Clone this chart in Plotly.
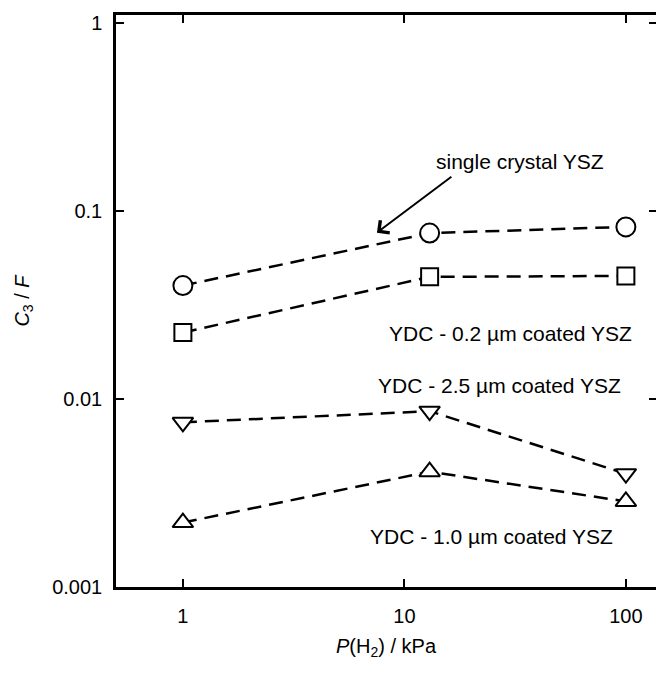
import plotly.graph_objects as go

# Data
p_h2 = [1, 13, 100]  # kPa
single_crystal = [0.040, 0.076, 0.082]
ydc_02 = [0.0225, 0.0445, 0.045]
ydc_25 = [0.0075, 0.0086, 0.0040]
ydc_10 = [0.0022, 0.0041, 0.00285]

x_ticks = [1, 10, 100]
x_ticklabels = ["1", "10", "100"]
y_ticks = [0.001, 0.01, 0.1, 1]
y_ticklabels = ["0.001", "0.01", "0.1", "1"]

FONT = "Liberation Sans, Arial, sans-serif"
dash = "14px,8px"

fig = go.Figure()

series = [
    (single_crystal, "circle", 19),
    (ydc_02, "square", 17),
    (ydc_25, "triangle-down", 18),
    (ydc_10, "triangle-up", 18),
]
for vals, sym, sz in series:
    fig.add_trace(go.Scatter(
        x=p_h2, y=vals, mode="lines+markers",
        line=dict(color="black", width=2.5, dash=dash),
        marker=dict(symbol=sym, size=sz, color="white",
                    line=dict(color="black", width=2)),
        showlegend=False, hoverinfo="skip",
    ))

# helper trace for the right-hand tick axis
fig.add_trace(go.Scatter(x=p_h2, y=single_crystal, yaxis="y2", mode="lines",
                         line=dict(width=0), opacity=0, showlegend=False,
                         hoverinfo="skip"))

ann_font = dict(family=FONT, size=21, color="black")
fig.add_annotation(x=1.133, y=-0.739, xref="x", yref="y", text="single crystal YSZ",
                   showarrow=False, xanchor="left", yanchor="middle", font=ann_font)
fig.add_annotation(x=0.876, y=-1.117, ax=1.219, ay=-0.814, xref="x", yref="y",
                   axref="x", ayref="y", text="", showarrow=True,
                   arrowhead=4, arrowsize=1.5, arrowwidth=2, arrowcolor="black")
fig.add_annotation(x=2.035, y=-1.654, xref="x", yref="y", text="YDC - 0.2 µm coated YSZ",
                   showarrow=False, xanchor="right", yanchor="middle", font=ann_font)
fig.add_annotation(x=1.986, y=-1.931, xref="x", yref="y", text="YDC - 2.5 µm coated YSZ",
                   showarrow=False, xanchor="right", yanchor="middle", font=ann_font)
fig.add_annotation(x=1.950, y=-2.729, xref="x", yref="y", text="YDC - 1.0 µm coated YSZ",
                   showarrow=False, xanchor="right", yanchor="middle", font=ann_font)

tick_font = dict(family=FONT, size=20, color="black")
fig.update_layout(
    width=656, height=673,
    margin=dict(l=116, r=0, t=15, b=86),
    paper_bgcolor="white", plot_bgcolor="white",
    font=dict(family=FONT, color="black"),
    xaxis=dict(
        type="log", range=[-0.302, 2.136],
        tickvals=x_ticks, ticktext=x_ticklabels,
        ticks="inside", ticklen=8, tickwidth=2, tickcolor="black",
        showline=True, linecolor="black", linewidth=2.5, mirror="ticks",
        showgrid=False, zeroline=False, tickfont=tick_font, ticklabelstandoff=9,
        title=dict(text="<i>P</i>(H<sub>2</sub>) / kPa", font=dict(family=FONT, size=20),
                   standoff=14),
    ),
    yaxis=dict(
        type="log", range=[-3, 0.04],
        tickvals=y_ticks, ticktext=y_ticklabels,
        ticks="inside", ticklen=8, tickwidth=2, tickcolor="black",
        showline=True, linecolor="black", linewidth=2.5, mirror=False,
        showgrid=False, zeroline=False, tickfont=tick_font, ticklabelstandoff=7,
        title=dict(text="<i>C</i><sub>3</sub> / <i>F</i>", font=dict(family=FONT, size=20),
                   standoff=18),
    ),
    yaxis2=dict(
        type="log", range=[-3, 0.04], overlaying="y", side="right",
        tickvals=y_ticks, ticks="inside", ticklen=7, tickwidth=2, tickcolor="black",
        showline=False, showgrid=False, zeroline=False, showticklabels=False,
    ),
)

fig.write_html("out.html")
